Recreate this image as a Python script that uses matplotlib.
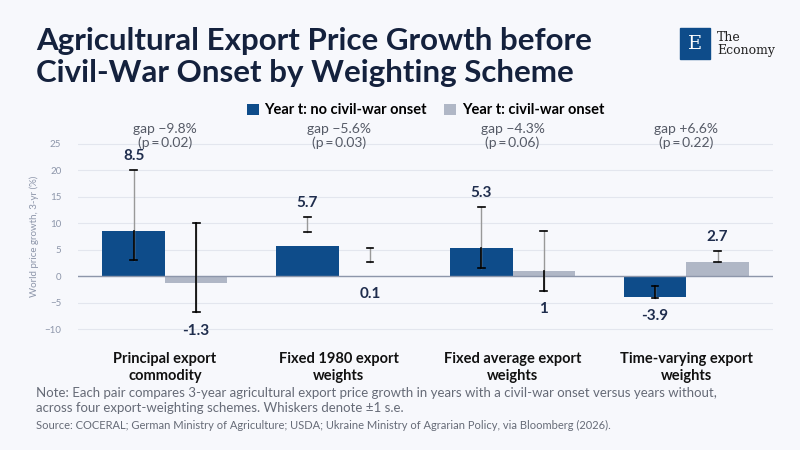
import matplotlib
matplotlib.use("Agg")
import matplotlib.pyplot as plt
from matplotlib.patches import Rectangle
import numpy as np

categories = ["Principal export\ncommodity", "Fixed 1980 export\nweights", "Fixed average export\nweights", "Time-varying export\nweights"]
no_onset = [8.5, 5.7, 5.3, -3.9]
onset = [-1.3, 0.1, 1.0, 2.7]
no_onset_low = [3.0, 8.4, 1.5, -4.0]
no_onset_high = [20.0, 11.1, 13.0, -1.8]
onset_low = [-6.8, 2.7, -2.8, 2.7]
onset_high = [10.1, 5.4, 8.5, 4.8]
gaps = ["gap \u22129.8%\n(p\u2009=\u20090.02)", "gap \u22125.6%\n(p\u2009=\u20090.03)", "gap \u22124.3%\n(p\u2009=\u20090.06)", "gap +6.6%\n(p\u2009=\u20090.22)"]
yticks = [-10, -5, 0, 5, 10, 15, 20, 25]

plt.rcParams['font.family'] = ['Lato', 'DejaVu Sans']
BG = "#F7F8FC"
BLUE = "#0E4C8A"
GREY = "#B0B7C6"
NAVY = "#14213D"

fig = plt.figure(figsize=(8, 4.5), dpi=100, facecolor=BG)
ax = fig.add_axes([0.0975, 0.262, 0.869, 0.425], facecolor=BG)
x = np.arange(len(categories))
w = 0.36
ax.bar(x - w/2, no_onset, w, color=BLUE, zorder=2, label="Year t: no civil-war onset")
ax.bar(x + w/2, onset, w, color=GREY, zorder=2, label="Year t: civil-war onset")

for i in range(len(x)):
    for xc, val, lo, hi in [(x[i]-w/2, no_onset[i], no_onset_low[i], no_onset_high[i]),
                            (x[i]+w/2, onset[i], onset_low[i], onset_high[i])]:
        ax.plot([xc, xc], [lo, hi], color="#999999", lw=1, zorder=3)
        top = min(hi, val) if val > 0 else hi
        ax.plot([xc, xc], [lo, max(lo, top)], color="black", lw=1.2, zorder=3)
        for yy in (lo, hi):
            ax.plot([xc-0.02, xc+0.02], [yy, yy], color="black", lw=1.2, zorder=3)
        lab = f"{val:g}"
        if val >= 2:
            ax.annotate(lab, (xc, hi), xytext=(0, 5), textcoords="offset points", ha="center", va="bottom",
                        fontsize=11, fontweight="bold", color="#1f2d4d")
        else:
            ax.annotate(lab, (xc, min(lo, 0)), xytext=(0, -8), textcoords="offset points", ha="center", va="top",
                        fontsize=11, fontweight="bold", color="#1f2d4d")
    ax.text(x[i], 26.4, gaps[i], ha="center", va="center", fontsize=10, color="#555a66", linespacing=1.2, clip_on=False)

ax.set_xlim(-0.5, 3.5)
ax.set_ylim(-10.5, 25.5)
ax.set_yticks(yticks)
ax.tick_params(axis="y", length=0, labelsize=7, labelcolor="#8d96aa", pad=12)
ax.tick_params(axis="x", length=0, labelsize=10.5, pad=14)
ax.set_xticks(x)
ax.set_xticklabels(categories, fontweight="bold", color="#111111", linespacing=1.3)
ax.grid(axis="y", color="#e3e6ee", lw=0.8, zorder=0)
ax.axhline(0, color="#8d96aa", lw=1, zorder=2.5)
for s in ax.spines.values():
    s.set_visible(False)
ax.set_ylabel("World price growth, 3-yr (%)", fontsize=7, color="#8d96aa", labelpad=4)
ax.legend(loc="center", bbox_to_anchor=(0.5, 1.16), ncol=2, frameon=False,
          handlelength=0.8, handleheight=0.8, columnspacing=1.2, handletextpad=0.4,
          prop={'weight': 'bold', 'size': 10.5})

fig.text(0.045, 0.873, "Agricultural Export Price Growth before\nCivil-War Onset by Weighting Scheme",
         fontsize=22.5, fontweight="bold", color=NAVY, va="center", linespacing=1.2)
fig.text(0.045, 0.11, "Note: Each pair compares 3-year agricultural export price growth in years with a civil-war onset versus years without,\nacross four export-weighting schemes. Whiskers denote \u00b11 s.e.",
         fontsize=9.5, color="#666b77", va="center", linespacing=1.3)
fig.text(0.045, 0.055, "Source: COCERAL; German Ministry of Agriculture; USDA; Ukraine Ministry of Agrarian Policy, via Bloomberg (2026).",
         fontsize=8, color="#666b77", va="center")

# logo
fig.patches.append(Rectangle((0.85, 0.87), 0.0375, 0.0667, transform=fig.transFigure, color=BLUE))
fig.text(0.8687, 0.903, "E", fontsize=14, color="white", family="DejaVu Serif", ha="center", va="center")
fig.text(0.896, 0.903, "The\nEconomy", fontsize=9, color="#222222", family="DejaVu Serif", va="center", linespacing=1.0)

fig.savefig("out.png", dpi=100, facecolor=BG)
